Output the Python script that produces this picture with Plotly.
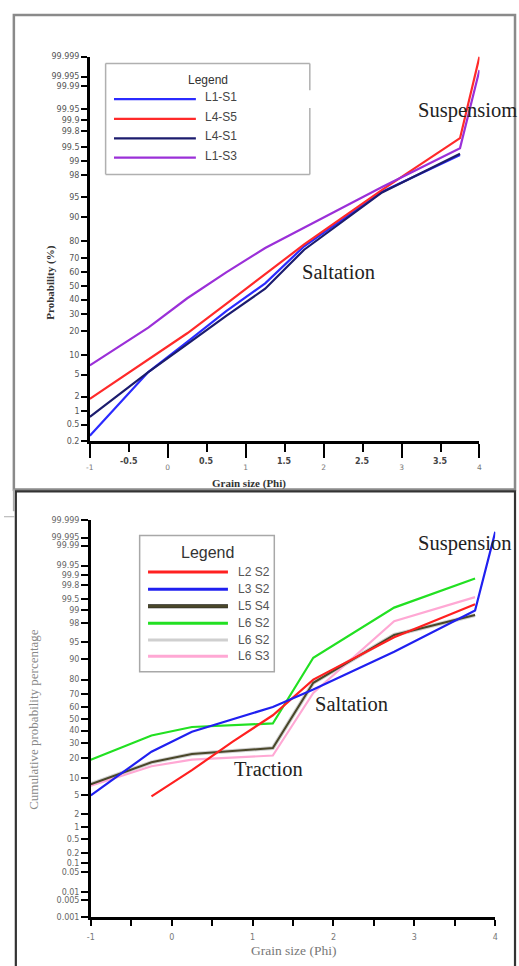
from statistics import NormalDist
import plotly.graph_objects as go

W, H = 519, 966

# ---------------- data: top panel ----------------
top_names = ["L1-S1", "L4-S5", "L4-S1", "L1-S3"]
top_phi_L1_S1 = [-1, -0.25, 0.25, 0.75, 1.25, 1.75, 2.75, 3.75]
top_val_L1_S1 = [0.27, 5.5, 15, 32, 52, 77, 96, 99.25]
top_phi_L4_S5 = [-1, -0.25, 0.25, 0.75, 1.25, 1.75, 2.75, 3.75, 4]
top_val_L4_S5 = [1.8, 8.5, 19, 37, 58.5, 78, 96.3, 99.7, 99.999]
top_phi_L4_S1 = [-1, -0.25, 0.25, 0.75, 1.25, 1.75, 2.75, 3.75]
top_val_L4_S1 = [0.75, 5.5, 14, 29, 48, 75, 95.9, 99.3]
top_phi_L1_S3 = [-1, -0.25, 0.25, 0.75, 1.25, 1.75, 2.75, 3.75, 4]
top_val_L1_S3 = [7, 22, 41, 60, 76, 86, 96.7, 99.48, 99.997]
top_yticks = [99.999, 99.995, 99.99, 99.95, 99.9, 99.8, 99.5, 99, 98, 95, 90, 80,
              70, 60, 50, 40, 30, 20, 10, 5, 2, 1, 0.5, 0.2]
top_xticks_major = [-1, 0, 1, 2, 3, 4]
top_xticks_half = [-0.5, 0.5, 1.5, 2.5, 3.5]

# ---------------- data: bottom panel ----------------
bot_names = ["L2 S2", "L3 S2", "L5 S4", "L6 S2", "L6 S2", "L6 S3"]
bot_phi_L2_S2 = [-0.25, 0.25, 0.75, 1.25, 1.75, 2.75, 3.75]
bot_val_L2_S2 = [4.8, 13.5, 31, 53, 80, 96, 99.3]
bot_phi_L3_S2 = [-1, -0.25, 0.25, 1.25, 1.75, 2.75, 3.75, 4]
bot_val_L3_S2 = [5, 24, 39, 60, 73.5, 92.5, 99, 99.997]
bot_phi_L5_S4 = [-1, -0.25, 0.25, 1.25, 1.75, 2.75, 3.75]
bot_val_L5_S4 = [8, 17.5, 22.5, 26.5, 78, 96.4, 98.7]
bot_phi_L6_S2a = [-1, -0.25, 0.25, 1.25, 1.75, 2.75, 3.75]
bot_val_L6_S2a = [19, 36, 43, 46, 90.5, 99.15, 99.87]
bot_phi_L6_S2b = [-1, -0.25, 0.25, 1.25, 1.75, 2.75, 3.75]
bot_val_L6_S2b = [8, 17.5, 22.5, 26.5, 78, 96.4, 98.7]
bot_phi_L6_S3 = [-1, -0.25, 0.25, 1.25, 1.75, 2.75, 3.75]
bot_val_L6_S3 = [7.5, 15.4, 19, 21.5, 71, 98.2, 99.55]
bot_yticks = [99.999, 99.995, 99.99, 99.95, 99.9, 99.8, 99.5, 99, 98, 95, 90, 80,
              70, 60, 50, 40, 30, 20, 10, 5, 2, 1, 0.5, 0.2, 0.1, 0.05, 0.01, 0.005, 0.001]
bot_xticks = [-1, 0, 1, 2, 3, 4]

# ---------------- styles ----------------
top_colors = ["#2b2bff", "#ff2a2a", "#1c1c6e", "#9b30d8"]
bot_colors = ["#ff2020", "#2020f0", "#4a472a", "#22e022", "#cfcfcf", "#ffa8d4"]
SERIF = "Liberation Serif, Times New Roman, serif"
SANS = "Liberation Sans, Arial, sans-serif"


def z(p):
    return NormalDist().inv_cdf(p / 100.0)


def fmt(v):
    return "%g" % v


def px(x):
    return x / W


def py(y):
    return 1 - y / H


fig = go.Figure()

top_series = [(top_phi_L1_S1, top_val_L1_S1), (top_phi_L4_S5, top_val_L4_S5),
              (top_phi_L4_S1, top_val_L4_S1), (top_phi_L1_S3, top_val_L1_S3)]
for (ph, vals), name, col in zip(top_series, top_names, top_colors):
    fig.add_trace(go.Scatter(x=ph, y=[z(v) for v in vals], mode="lines", name=name,
                             line=dict(color=col, width=2.2), xaxis="x", yaxis="y",
                             showlegend=False))

bot_series = [(bot_phi_L2_S2, bot_val_L2_S2), (bot_phi_L3_S2, bot_val_L3_S2),
              (bot_phi_L5_S4, bot_val_L5_S4), (bot_phi_L6_S2a, bot_val_L6_S2a),
              (bot_phi_L6_S2b, bot_val_L6_S2b), (bot_phi_L6_S3, bot_val_L6_S3)]
bot_widths = [2.2, 2.2, 2.0, 2.2, 4.0, 2.2]
order = [4, 5, 2, 3, 0, 1]  # gray drawn first (under olive)
for i in order:
    ph, vals = bot_series[i]
    fig.add_trace(go.Scatter(x=ph, y=[z(v) for v in vals], mode="lines", name=bot_names[i],
                             line=dict(color=bot_colors[i], width=bot_widths[i]),
                             xaxis="x2", yaxis="y2", showlegend=False))

axis_common = dict(showline=True, linecolor="black", linewidth=2.5, showgrid=False,
                   zeroline=False, ticks="outside", tickcolor="black", tickwidth=2)

fig.update_layout(
    width=W, height=H, autosize=False,
    margin=dict(l=0, r=0, t=0, b=0, pad=0),
    paper_bgcolor="white", plot_bgcolor="white",
    xaxis=dict(domain=[px(87), px(482)], anchor="y", range=[-1, 4],
               tickmode="array", tickvals=top_xticks_major,
               ticktext=[fmt(v) for v in top_xticks_major], ticklen=14,
               tickfont=dict(family="DejaVu Sans", size=7.5, color="#777"),
               ticklabelstandoff=3,
               minor=dict(tickmode="linear", tick0=-1, dtick=0.5, ticks="outside",
                          ticklen=8, tickwidth=2, tickcolor="black"),
               **axis_common),
    yaxis=dict(domain=[py(441), py(53)], anchor="x", range=[z(0.2), z(99.999)],
               tickmode="array", tickvals=[z(v) for v in top_yticks],
               ticktext=[fmt(v) for v in top_yticks], ticklen=6,
               tickfont=dict(family="DejaVu Sans", size=8, color="#555"),
               **axis_common),
    xaxis2=dict(domain=[px(88), px(498)], anchor="y2", range=[-1, 4],
                tickmode="array", tickvals=bot_xticks,
                ticktext=[fmt(v) for v in bot_xticks], ticklen=6,
                tickfont=dict(family="DejaVu Sans", size=8, color="#777"),
                ticklabelstandoff=4,
                minor=dict(tickmode="linear", tick0=-1, dtick=0.5, ticks="outside",
                           ticklen=6, tickwidth=2, tickcolor="black"),
                **axis_common),
    yaxis2=dict(domain=[py(922), py(521)], anchor="x2", range=[z(0.001), z(99.999)],
                tickmode="array", tickvals=[z(v) for v in bot_yticks],
                ticktext=[fmt(v) for v in bot_yticks], ticklen=7,
                tickfont=dict(family="DejaVu Sans", size=8, color="#666"),
                **axis_common),
)

shapes = []
annotations = []


def ann(text, x, y, size, family, color, xanchor="center", xref="paper", angle=0):
    annotations.append(dict(x=x, y=y, xref=xref, yref="paper", text=text, showarrow=False,
                            xanchor=xanchor, yanchor="middle", textangle=angle,
                            font=dict(family=family, size=size, color=color)))


# frames
shapes.append(dict(type="rect", xref="paper", yref="paper", x0=px(10), x1=px(518),
                   y0=py(490), y1=py(11), line=dict(color="#8a8a8a", width=2.5)))
shapes.append(dict(type="rect", xref="paper", yref="paper", x0=px(12), x1=px(518),
                   y0=py(980), y1=py(492), line=dict(color="#333", width=2.2)))
shapes.append(dict(type="line", xref="paper", yref="paper", x0=px(10), x1=px(10),
                   y0=py(490), y1=py(512), line=dict(color="#aaa", width=2)))
shapes.append(dict(type="line", xref="paper", yref="paper", x0=px(0), x1=px(11),
                   y0=py(517.5), y1=py(517.5), line=dict(color="#bbb", width=1.2)))

# half-step x labels (top panel, bold)
for v in top_xticks_half:
    ann("<b>%s</b>" % fmt(v), v, py(462), 8, "DejaVu Sans", "#444", xref="x")

# axis titles
ann("<b>Grain size (Phi)</b>", px(248), py(484), 11, SERIF, "#333")
ann("<b>Probability (%)</b>", px(47), py(281), 11, SERIF, "#333", angle=-90)
ann("Grain size (Phi)", px(293), py(955), 13.5, SERIF, "#777")
ann("Cumulative probability percentage", px(30), py(722), 13, SERIF, "#888", angle=-90)

# region labels
for txt, x, y in [("Suspensiom", 418, 107), ("Saltation", 300, 271),
                  ("Suspension", 418, 545), ("Saltation", 313, 707),
                  ("Traction", 231, 772)]:
    ann(txt, px(x), py(y), 20.5, SERIF, "#222", xanchor="left")

# top legend
lg = "#b0b0b0"
for (x0, y0, x1, y1) in [(103, 60, 310, 60), (103, 172, 310, 172), (103, 60, 103, 172),
                         (310, 60, 310, 87), (310, 105, 310, 172)]:
    shapes.append(dict(type="line", xref="paper", yref="paper", x0=px(x0), x1=px(x1),
                       y0=py(y0), y1=py(y1), line=dict(color=lg, width=1.5)))
ann("Legend", px(207), py(77), 12, SANS, "#333")
for i, (name, col) in enumerate(zip(top_names, top_colors)):
    yy = [96, 116, 135.7, 155][i]
    shapes.append(dict(type="line", xref="paper", yref="paper", x0=px(111.5), x1=px(194.5),
                       y0=py(yy), y1=py(yy), line=dict(color=col, width=2.2)))
    ann(name, px(202), py(yy - 2), 12, SANS, "#444", xanchor="left")

# bottom legend
shapes.append(dict(type="rect", xref="paper", yref="paper", x0=px(137.5), x1=px(274),
                   y0=py(674), y1=py(536.5), line=dict(color="#a8a8a8", width=1.5)))
ann("Legend", px(206), py(554), 16, SANS, "#333")
for i, (name, col) in enumerate(zip(bot_names, bot_colors)):
    yy = [573.3, 590.7, 608, 625, 642, 658.3][i]
    if i == 2:
        shapes.append(dict(type="line", xref="paper", yref="paper", x0=px(146), x1=px(227),
                           y0=py(yy), y1=py(yy), line=dict(color="#222", width=4)))
    shapes.append(dict(type="line", xref="paper", yref="paper", x0=px(146), x1=px(227),
                       y0=py(yy), y1=py(yy), line=dict(color=col, width=3)))
    ann(name, px(235), py(yy), 12, SANS, "#555", xanchor="left")

fig.update_layout(shapes=shapes, annotations=annotations)
fig.write_html("out.html")
